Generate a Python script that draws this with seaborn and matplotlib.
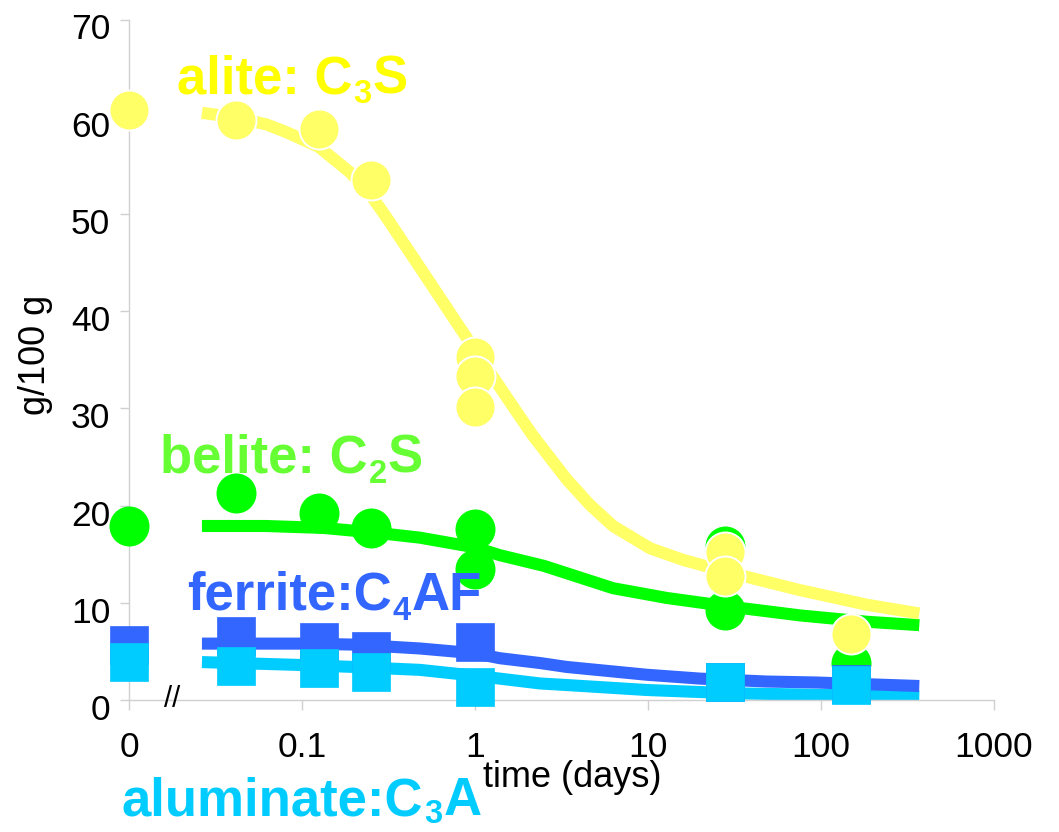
import matplotlib
matplotlib.use("Agg")
import matplotlib.pyplot as plt
import matplotlib.transforms as mtransforms
from matplotlib.ticker import NullLocator
import pandas as pd
import seaborn as sns

# ---------------- data ----------------
ZERO_POS = 0.01  # where time "0" is drawn on the log axis

alite_t = [0, 1/24, 1/8, 1/4, 1, 1, 1, 28, 28, 150]
alite_v = [60.7, 59.7, 58.7, 53.5, 35.3, 33.3, 30.1, 15.2, 12.8, 6.8]

belite_t = [0, 1/24, 1/8, 1/4, 1, 1, 28, 28, 150]
belite_v = [17.9, 21.3, 19.2, 17.7, 17.6, 13.5, 15.8, 9.3, 3.8]

ferrite_t = [0, 1/24, 1/8, 1/4, 1, 28, 150]
ferrite_v = [5.7, 6.6, 6.0, 5.0, 6.0, 1.9, 1.6]

aluminate_t = [0, 1/24, 1/8, 1/4, 1, 28, 150]
aluminate_v = [3.9, 3.5, 3.3, 2.9, 1.3, 1.9, 1.5]

# fitted model curves
alite_fit_t = [0.0264, 0.0421, 0.0625, 0.0815, 0.125, 0.189, 0.253, 0.309, 0.367,
               0.48, 0.627, 0.818, 1.0, 1.39, 1.70, 2.16, 3.39, 4.6, 6.28, 10.3,
               16.0, 29.8, 75.7, 184, 370]
alite_fit_v = [60.4, 59.9, 59.2, 58.4, 56.9, 54.3, 51.8, 49.6, 47.6,
               44.5, 41.4, 38.3, 36.0, 32.2, 29.9, 27.2, 22.7, 20.1, 17.9, 15.6,
               14.4, 13.1, 11.3, 9.8, 8.9]

belite_fit_t = [0.0264, 0.0615, 0.133, 0.269, 0.48, 1.0, 1.39, 2.5, 6.28, 12.8, 29.8, 75.7, 184, 370]
belite_fit_v = [17.9, 17.9, 17.7, 17.2, 16.7, 15.7, 14.9, 13.8, 11.5, 10.5, 9.6, 8.7, 8.05, 7.7]

ferrite_fit_t = [0.0264, 0.1, 0.2, 0.48, 1.0, 1.39, 2.38, 3.39, 9.8, 20, 48.6, 94, 370]
ferrite_fit_v = [5.8, 5.8, 5.7, 5.3, 4.8, 4.3, 3.8, 3.4, 2.6, 2.2, 1.9, 1.8, 1.44]

aluminate_fit_t = [0.0264, 0.1, 0.2, 0.48, 1.0, 1.39, 2.38, 3.39, 9.8, 31, 117, 370]
aluminate_fit_v = [3.9, 3.6, 3.4, 3.1, 2.5, 2.2, 1.7, 1.54, 1.03, 0.69, 0.51, 0.34]

x_ticks = [0.01, 0.1, 1, 10, 100, 1000]
x_ticklabels = ["0", "0.1", "1", "10", "100", "1000"]
y_ticks = [0, 10, 20, 30, 40, 50, 60, 70]

# series labels: (main text, subscript, trailing text)
alite_label = ("alite: C", "3", "S")
belite_label = ("belite: C", "2", "S")
ferrite_label = ("ferrite:C", "4", "AF")
aluminate_label = ("aluminate:C", "3", "A")

# ---------------- style ----------------
sns.set_theme(style="white")
plt.rcParams["font.family"] = ["Liberation Sans", "DejaVu Sans"]

C_ALITE_TXT = "#ffff00"
C_ALITE = "#ffff66"
C_BELITE_TXT = "#66ff33"
C_BELITE = "#00ff00"
C_FERRITE = "#3366ff"
C_ALUM = "#00ccff"
AX_GRAY = "#d0d0d0"


def pos(ts):
    return [ZERO_POS if t == 0 else t for t in ts]


fig = plt.figure(figsize=(10.59, 8.32), dpi=100)
ax = fig.add_axes([129 / 1059, 1 - 700 / 832, 865 / 1059, 680.5 / 832])
ax.set_xscale("log")

# ---------------- curves ----------------
lw = 8.7
for ft, fv, col in [
    (aluminate_fit_t, aluminate_fit_v, C_ALUM),
    (ferrite_fit_t, ferrite_fit_v, C_FERRITE),
    (belite_fit_t, belite_fit_v, C_BELITE),
    (alite_fit_t, alite_fit_v, C_ALITE),
]:
    df = pd.DataFrame({"t": ft, "v": fv})
    sns.lineplot(data=df, x="t", y="v", color=col, linewidth=lw, ax=ax,
                 estimator=None, sort=True, zorder=2, solid_capstyle="butt",
                 legend=False)

# ---------------- markers ----------------
circle_s = 28.8 ** 2
square_s = 27.4 ** 2

df = pd.DataFrame({"t": pos(belite_t), "v": belite_v})
sns.scatterplot(data=df, x="t", y="v", color=C_BELITE, s=circle_s, marker="o",
                edgecolor=C_BELITE, linewidth=0, ax=ax, zorder=3, clip_on=False,
                legend=False)

df = pd.DataFrame({"t": pos(alite_t), "v": alite_v})
sns.scatterplot(data=df, x="t", y="v", color=C_ALITE, s=circle_s, marker="o",
                edgecolor="white", linewidth=1.4, ax=ax, zorder=4, clip_on=False,
                legend=False)

df = pd.DataFrame({"t": pos(ferrite_t), "v": ferrite_v})
sns.scatterplot(data=df, x="t", y="v", color=C_FERRITE, s=square_s, marker="s",
                edgecolor=C_FERRITE, linewidth=0.5, ax=ax, zorder=5, clip_on=False,
                legend=False)

df = pd.DataFrame({"t": pos(aluminate_t), "v": aluminate_v})
sns.scatterplot(data=df, x="t", y="v", color=C_ALUM, s=square_s, marker="s",
                edgecolor=C_ALUM, linewidth=0.5, ax=ax, zorder=6, clip_on=False,
                legend=False)

# ---------------- axes ----------------
ax.set_xlim(0.01, 1000)
ax.set_ylim(0, 70)
ax.set_xticks(x_ticks)
ax.set_xticklabels(x_ticklabels)
ax.xaxis.set_minor_locator(NullLocator())
ax.set_yticks(y_ticks)
ax.set_yticklabels([str(v) for v in y_ticks])

for side in ["top", "right"]:
    ax.spines[side].set_visible(False)
for side in ["left", "bottom"]:
    ax.spines[side].set_color(AX_GRAY)
    ax.spines[side].set_linewidth(1.0)

ax.tick_params(axis="x", bottom=True, direction="out", length=7, width=1,
               color=AX_GRAY, labelcolor="black", labelsize=25.5, pad=15)
ax.tick_params(axis="y", left=True, direction="out", length=6.5, width=1,
               color=AX_GRAY, labelcolor="black", labelsize=25.5, pad=7)

offset = mtransforms.ScaledTranslation(0, -5 / 72, fig.dpi_scale_trans)
for lab in ax.get_yticklabels():
    lab.set_transform(lab.get_transform() + offset)

ax.set_xlabel("time (days)", fontsize=26, color="black", va="baseline")
ax.xaxis.set_label_coords(0.5127, -0.1278)
ax.set_ylabel("g/100 g", fontsize=26, color="black", va="baseline")
ax.yaxis.set_label_coords(-0.0971, 0.507)

# axis break mark
ax.text(0.0503, 0.0015, "//", transform=ax.transAxes, ha="center", va="center",
        fontsize=21, color="black", zorder=7, clip_on=False)

# ---------------- series labels ----------------
renderer = fig.canvas.get_renderer()
MAIN_SIZE = 38
SUB_SIZE = 23.5


def rich_label(x, y, parts, color, drop=-10):
    main, sub, tail = parts
    dx = 0.0
    for txt, size, dy in [(main, MAIN_SIZE, 0), (sub, SUB_SIZE, drop), (tail, MAIN_SIZE, 0)]:
        tr = mtransforms.offset_copy(ax.transAxes, fig=fig, x=dx, y=dy, units="dots")
        t = ax.text(x, y, txt, transform=tr, fontsize=size, fontweight="bold",
                    color=color, ha="left", va="baseline", zorder=8, clip_on=False)
        bb = t.get_window_extent(renderer)
        dx += bb.width + 1


rich_label(0.0555, 0.8915, alite_label, C_ALITE_TXT)
rich_label(0.0358, 0.3336, belite_label, C_BELITE_TXT)
rich_label(0.0670, 0.1323, ferrite_label, C_FERRITE)
rich_label(-0.0081, -0.1690, aluminate_label, C_ALUM, drop=-8)

fig.savefig("out.png", dpi=100, facecolor="white")
